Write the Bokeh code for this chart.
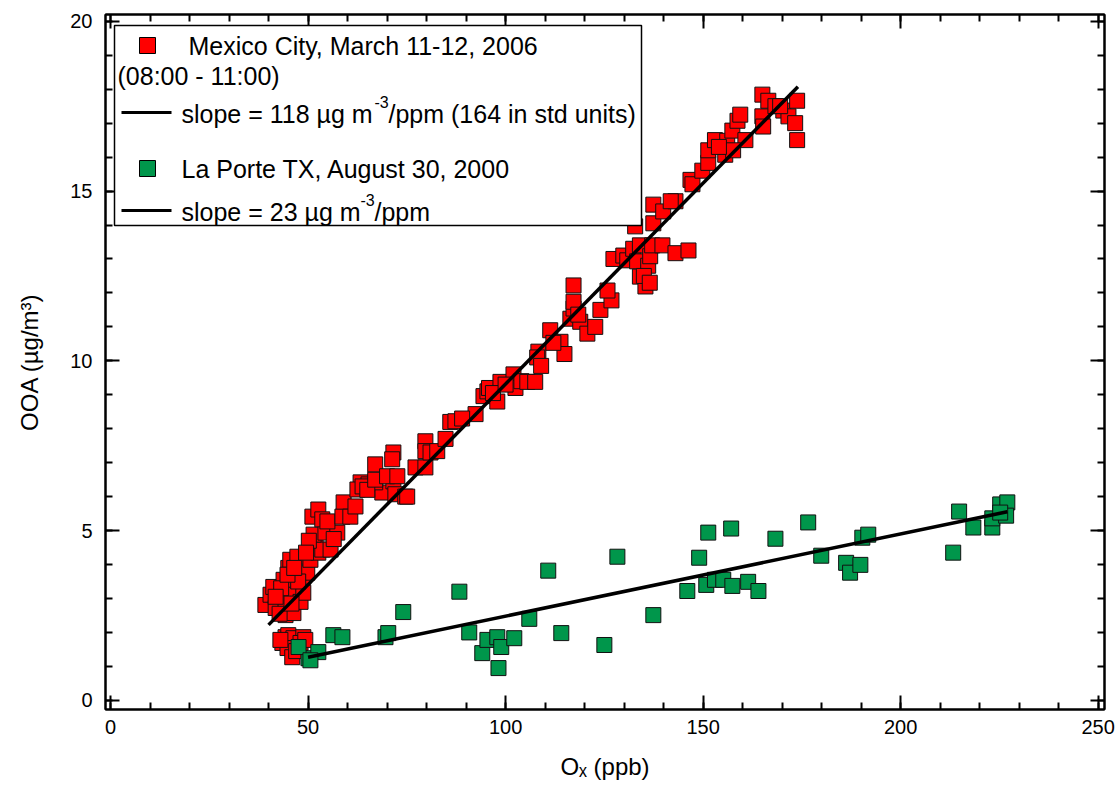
from bokeh.plotting import figure
from bokeh.models import (Range1d, LinearAxis, SingleIntervalTicker, Label, BoxAnnotation)
from bokeh.embed import file_html
from bokeh.resources import INLINE

# ---------------- data ----------------
# Mexico City, March 11-12, 2006 (08:00 - 11:00): Ox (ppb), OOA (ug/m3)
mc_ox = [44.3, 43.5, 45.0, 46.3, 48.8, 44.8, 46.0, 48.1, 49.3, 43.0, 47.0,
         39.2, 40.5, 41.2, 42.5, 41.8, 43.8, 44.3, 44.3, 45.5, 46.3, 45.0, 45.5, 47.3,
         46.8, 48.1, 48.8, 49.8, 48.8, 42.8, 43.2, 45.8, 47.5, 44.8, 46.5, 41.8,
         50.6, 51.9, 52.6, 53.6, 55.7, 51.4, 54.4, 57.4, 51.1, 52.6, 53.6, 54.9,
         59.0, 58.7, 60.7, 62.0, 63.3, 65.3, 68.8, 67.0, 71.6, 72.1, 74.6, 50.2, 56.5, 49.5,
         62.5, 63.8, 65.0, 67.0, 67.0, 70.0, 71.6, 71.3, 72.6, 75.1, 77.2, 79.7, 79.7,
         79.7, 81.0, 82.7, 84.8, 86.0, 87.3,
         92.4, 94.4, 95.4, 95.8, 97.9, 98.7, 102.0, 102.5, 104.0, 105.5, 107.5, 108.3,
         108.0, 111.3, 113.9, 116.4, 117.2, 117.2, 117.2, 118.9, 89.0, 96.8, 100.0,
         118.4, 120.7, 122.7, 124.0, 126.8, 114.9, 112.1, 109.0,
         125.8, 127.3, 129.8, 130.8, 132.3, 133.3, 134.0, 134.0, 135.4, 136.1, 136.6,
         137.1, 139.7, 143.0, 146.3, 132.8, 137.4, 137.4, 139.9, 143.0, 141.8, 146.8,
         147.3, 149.8, 151.3, 135.0, 136.5,
         151.3, 153.0, 155.6, 156.1, 157.4, 158.7, 159.4, 160.7, 157.6, 165.0, 165.2,
         165.0, 166.5, 168.3, 170.3, 171.6, 173.3, 173.8, 173.8, 169.5, 154.0]
mc_ooa = [1.86, 1.69, 1.92, 1.83, 1.86, 1.54, 1.27, 1.69, 1.78, 1.78, 1.45,
          2.81, 3.11, 3.34, 3.02, 2.72, 3.55, 2.96, 2.51, 3.34, 2.57, 3.90, 4.14, 4.23,
          3.11, 2.90, 3.64, 3.76, 3.17, 2.55, 3.30, 2.85, 3.50, 3.70, 3.90, 3.05,
          4.14, 4.53, 4.35, 4.44, 4.44, 4.88, 4.94, 4.94, 5.41, 5.62, 5.33, 5.27,
          5.83, 5.41, 5.41, 5.71, 6.42, 6.36, 6.12, 6.42, 6.45, 6.07, 6.00, 4.70, 4.75, 4.35,
          6.21, 6.30, 6.20, 6.50, 6.95, 6.60, 7.30, 7.10, 6.60, 6.00, 6.86, 7.63, 6.86,
          7.34, 7.30, 7.34, 7.70, 8.20, 8.22,
          8.43, 8.96, 9.10, 9.20, 8.80, 9.38, 9.60, 9.20, 9.40, 9.38, 9.38, 10.27,
          10.10, 10.90, 10.56, 11.24, 11.54, 11.74, 12.22, 11.15, 8.30, 9.05, 9.30,
          11.36, 10.80, 11.00, 11.50, 11.78, 10.20, 10.53, 9.85,
          12.07, 13.00, 13.10, 12.96, 13.30, 12.93, 13.40, 12.48, 12.19, 12.80, 13.08,
          13.40, 13.40, 13.17, 13.25, 13.96, 14.05, 14.60, 14.40, 14.70, 14.70, 15.33,
          15.20, 15.60, 15.83, 12.50, 12.30,
          16.20, 16.50, 16.07, 16.48, 16.78, 17.07, 17.25, 16.50, 16.20, 17.20, 16.90,
          17.84, 17.66, 17.50, 17.37, 17.20, 17.00, 17.66, 16.50, 17.50, 16.30]

# La Porte TX, August 30, 2000
lp_ox = [50.1, 52.6, 56.4, 58.7, 69.6, 70.3, 74.1, 88.3, 90.8, 94.1, 95.4, 97.9,
         98.9, 98.2, 102.2, 106.0, 110.8, 114.1, 125.0, 128.3, 137.4, 146.0, 149.0,
         151.3, 150.8, 153.0, 155.1, 157.1, 157.4, 161.4, 164.0, 168.3, 176.6, 179.9,
         186.2, 187.2, 189.8, 190.3, 191.8, 214.8, 213.3, 218.4, 223.2, 223.2, 225.2,
         227.0, 226.7, 225.2, 47.6, 50.6]
lp_ooa = [1.24, 1.42, 1.92, 1.86, 1.86, 1.98, 2.60, 3.20, 2.00, 1.39, 1.78, 1.86,
          1.57, 0.95, 1.83, 2.40, 3.82, 1.98, 1.63, 4.23, 2.51, 3.22, 4.20,
          4.94, 3.40, 3.55, 3.55, 5.06, 3.37, 3.49, 3.22, 4.76, 5.24, 4.26,
          4.05, 3.76, 3.99, 4.79, 4.88, 5.56, 4.35, 5.09, 5.09, 5.36, 5.77,
          5.83, 5.44, 5.53, 1.57, 1.18]

# linear fits (OOA = slope * Ox + intercept) and the Ox span they cover
mc_fit_slope, mc_fit_intercept, mc_fit_span = 0.1183, -2.51, [40.0, 174.0]
lp_fit_slope, lp_fit_intercept, lp_fit_span = 0.0242, 0.06, [50.0, 227.0]

x_ticks_interval = 50
y_ticks_interval = 5

# ---------------- figure ----------------
FONT = "Liberation Sans"
p = figure(width=1118, height=786, output_backend="svg", toolbar_location=None,
           x_range=Range1d(-1.27, 251.6), y_range=Range1d(-0.27, 20.2),
           min_border_left=105, min_border_right=14, min_border_top=14,
           min_border_bottom=77)
p.background_fill_color = "white"
p.border_fill_color = "white"
p.outline_line_color = "black"
p.outline_line_width = 2
p.xgrid.visible = False
p.ygrid.visible = False

p.add_layout(LinearAxis(), "above")
p.add_layout(LinearAxis(), "right")

for ax in p.xaxis:
    ax.ticker = SingleIntervalTicker(interval=x_ticks_interval, num_minor_ticks=5)
for ax in p.yaxis:
    ax.ticker = SingleIntervalTicker(interval=y_ticks_interval, num_minor_ticks=5)

for ax in p.axis:
    ax.axis_line_width = 2
    ax.axis_line_color = "black"
    ax.major_tick_line_width = 2
    ax.minor_tick_line_width = 2
    ax.major_tick_line_color = "black"
    ax.minor_tick_line_color = "black"
    ax.major_tick_in = 14
    ax.major_tick_out = 0
    ax.minor_tick_in = 7
    ax.minor_tick_out = 0
    ax.major_label_text_font = FONT
    ax.major_label_text_font_size = "20px"
    ax.major_label_text_color = "black"
    ax.axis_label_text_font = FONT
    ax.axis_label_text_font_size = "24px"
    ax.axis_label_text_font_style = "normal"
    ax.axis_label_text_color = "black"

# mirrored axes: ticks only, no labels drawn
for ax in (p.above[0], p.right[0]):
    ax.major_label_text_color = None
    ax.major_label_standoff = 0

xa = p.below[0]
xa.axis_label = "Oₓ (ppb)"
xa.major_label_standoff = 10
xa.axis_label_standoff = 16
ya = p.left[0]
ya.axis_label = "OOA (µg/m³)"
ya.major_label_standoff = 13
ya.axis_label_standoff = 24

# ---------------- marks ----------------
p.scatter(mc_ox, mc_ooa, marker="square", size=15, fill_color="#FF0000",
          line_color="#111111", line_width=1)
p.scatter(lp_ox, lp_ooa, marker="square", size=15, fill_color="#00964B",
          line_color="#111111", line_width=1)

mc_fit_y = [mc_fit_slope * x + mc_fit_intercept for x in mc_fit_span]
lp_fit_y = [lp_fit_slope * x + lp_fit_intercept for x in lp_fit_span]
p.line(mc_fit_span, mc_fit_y, line_color="black", line_width=3.5)
p.line(lp_fit_span, lp_fit_y, line_color="black", line_width=3.5)

# ---------------- legend (screen units, frame relative) ----------------
def box(l, r, t, b, fill, line=None, lw=1.5):
    return BoxAnnotation(left=l, right=r, top=t, bottom=b,
                         left_units="screen", right_units="screen",
                         top_units="screen", bottom_units="screen",
                         fill_color=fill, fill_alpha=1.0,
                         line_color=line, line_width=lw, line_alpha=1.0 if line else 0.0)

def lab(x, y, text, size="25px"):
    return Label(x=x, y=y, x_units="screen", y_units="screen", text=text,
                 text_font=FONT, text_font_size=size, text_color="black",
                 text_align="left", text_baseline="middle")

p.add_layout(box(9, 536, 684, 484, "white", "black", 1.5))
p.add_layout(box(34, 50, 672, 656, "#FF0000", "black", 1))
p.add_layout(lab(83, 664, "Mexico City, March 11-12, 2006"))
p.add_layout(lab(12, 634, "(08:00 - 11:00)"))
p.add_layout(box(16, 66, 598.5, 595.5, "black"))
p.add_layout(lab(76, 596, "slope = 118 µg m"))
p.add_layout(lab(269, 608, "-3", "16px"))
p.add_layout(lab(283, 596, "/ppm (164 in std units)"))
p.add_layout(box(34, 50, 549, 533, "#00964B", "black", 1))
p.add_layout(lab(76, 541, "La Porte TX, August 30, 2000"))
p.add_layout(box(16, 66, 500.5, 497.5, "black"))
p.add_layout(lab(76, 498, "slope = 23 µg m"))
p.add_layout(lab(255, 510, "-3", "16px"))
p.add_layout(lab(269, 498, "/ppm"))

open("out.html", "w").write(file_html(p, INLINE))
